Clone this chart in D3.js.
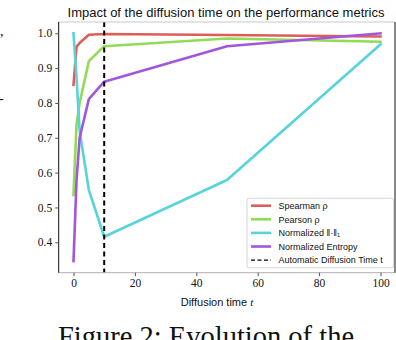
<!DOCTYPE html>
<html><head><meta charset="utf-8">
<script src="https://cdn.jsdelivr.net/npm/d3@7"></script>
<style>body{margin:0;background:#fff}svg{display:block}</style>
</head><body>
<svg id="c" width="396" height="340"></svg>
<script>
const times = [0, 1, 2, 5, 10, 50, 100];
const spearman = [0.852, 0.962, 0.972, 0.996, 0.998, 0.995, 0.991];
const pearson = [0.536, 0.74, 0.80, 0.92, 0.963, 0.985, 0.976];
const normL1 = [1.0, 0.87, 0.72, 0.55, 0.416, 0.579, 0.968];
const entropy = [0.346, 0.58, 0.70, 0.811, 0.861, 0.963, 1.0];
const seriesNames = ["Spearman ρ", "Pearson ρ", "Normalized ‖·‖₁", "Normalized Entropy"];
const seriesColors = ["#db5f57", "#91db57", "#57d3db", "#a157db"];
const autoTime = 10;
const autoLabel = "Automatic Diffusion Time t";
const xTicks = [0, 20, 40, 60, 80, 100];
const yTicks = [0.4, 0.5, 0.6, 0.7, 0.8, 0.9, 1.0];

const svg = d3.select("#c");
const L = 58.7, R = 395, T = 22, B = 272.7;
const x = d3.scaleLinear().domain([0, 100]).range([73.5, 380.5]);
const y = d3.scaleLinear().domain([0.4, 1.0]).range([242.3, 33.3]);

// title
svg.append("text").attr("x", 226).attr("y", 16.5).attr("text-anchor", "middle")
  .attr("font-family", "Liberation Sans, sans-serif").attr("font-size", 13).attr("fill", "#111")
  .text("Impact of the diffusion time on the performance metrics");

// series
const data = [spearman, pearson, normL1, entropy];
const line = d3.line().x((d, i) => x(times[i])).y(d => y(d));
data.forEach((s, k) => {
  svg.append("path").attr("d", line(s)).attr("fill", "none")
    .attr("stroke", seriesColors[k]).attr("stroke-width", 2.6)
    .attr("stroke-linejoin", "round").attr("stroke-linecap", "square");
});
// dashed vertical
svg.append("line").attr("x1", x(autoTime)).attr("x2", x(autoTime)).attr("y1", T).attr("y2", B)
  .attr("stroke", "#000").attr("stroke-width", 2).attr("stroke-dasharray", "5,3.5");

// spines
svg.append("line").attr("x1", L).attr("x2", R).attr("y1", T).attr("y2", T).attr("stroke", "#c8c8c8").attr("stroke-width", 1);
svg.append("line").attr("x1", L).attr("x2", R).attr("y1", B).attr("y2", B).attr("stroke", "#b0b0b0").attr("stroke-width", 1);
svg.append("line").attr("x1", L).attr("x2", L).attr("y1", T).attr("y2", B).attr("stroke", "#111").attr("stroke-width", 1);
svg.append("line").attr("x1", R).attr("x2", R).attr("y1", T).attr("y2", B).attr("stroke", "#111").attr("stroke-width", 1);

// axes
const xAxis = svg.append("g").attr("transform", `translate(0,${B})`)
  .call(d3.axisBottom(x).tickValues(xTicks).tickSize(3.5).tickPadding(3).tickFormat(d3.format("d")));
const yAxis = svg.append("g").attr("transform", `translate(${L},0)`)
  .call(d3.axisLeft(y).tickValues(yTicks).tickSize(3.5).tickPadding(3).tickFormat(d3.format(".1f")));
[xAxis, yAxis].forEach(a => {
  a.select(".domain").remove();
  a.selectAll(".tick line").attr("stroke", "#555");
  a.selectAll("text").attr("font-family", "Liberation Serif, serif").attr("font-size", 11.5).attr("fill", "#111");
});

// x label
const xl = svg.append("text").attr("x", 217).attr("y", 306).attr("text-anchor", "middle")
  .attr("font-family", "Liberation Sans, sans-serif").attr("font-size", 11).attr("fill", "#111");
xl.append("tspan").text("Diffusion time ");
xl.append("tspan").attr("font-family", "Liberation Serif, serif").attr("font-style", "italic").text("t");

// legend
const lg = svg.append("g");
lg.append("rect").attr("x", 247).attr("y", 198.3).attr("width", 146.5).attr("height", 69.5).attr("rx", 2)
  .attr("fill", "#fff").attr("fill-opacity", 0.85).attr("stroke", "#ccc").attr("stroke-width", 0.8);
const rowY = i => 205.7 + i * 13.6;
seriesNames.forEach((n, i) => {
  lg.append("line").attr("x1", 251).attr("x2", 271).attr("y1", rowY(i)).attr("y2", rowY(i))
    .attr("stroke", seriesColors[i]).attr("stroke-width", 2.6);
  lg.append("text").attr("x", 278.5).attr("y", rowY(i) + 3.2).attr("font-family", "Liberation Sans, sans-serif")
    .attr("font-size", 9).attr("fill", "#111").text(n);
});
lg.append("line").attr("x1", 251).attr("x2", 271).attr("y1", rowY(4)).attr("y2", rowY(4))
  .attr("stroke", "#000").attr("stroke-width", 1.2).attr("stroke-dasharray", "4,2.5");
lg.append("text").attr("x", 278.5).attr("y", rowY(4) + 3.2).attr("font-family", "Liberation Sans, sans-serif")
  .attr("font-size", 9).attr("fill", "#111").text(autoLabel);

// surrounding page text fragments
svg.append("text").attr("x", 58).attr("y", 346).attr("font-family", "Liberation Serif, serif")
  .attr("font-size", 28.5).attr("fill", "#111").text("Figure 2: Evolution of the");
svg.append("text").attr("x", 0).attr("y", 36).attr("font-family", "Liberation Serif, serif")
  .attr("font-size", 14).attr("fill", "#111").text(",");
svg.append("text").attr("x", -1).attr("y", 103).attr("font-family", "Liberation Serif, serif")
  .attr("font-size", 14).attr("fill", "#111").text("-");
</script>
</body></html>
